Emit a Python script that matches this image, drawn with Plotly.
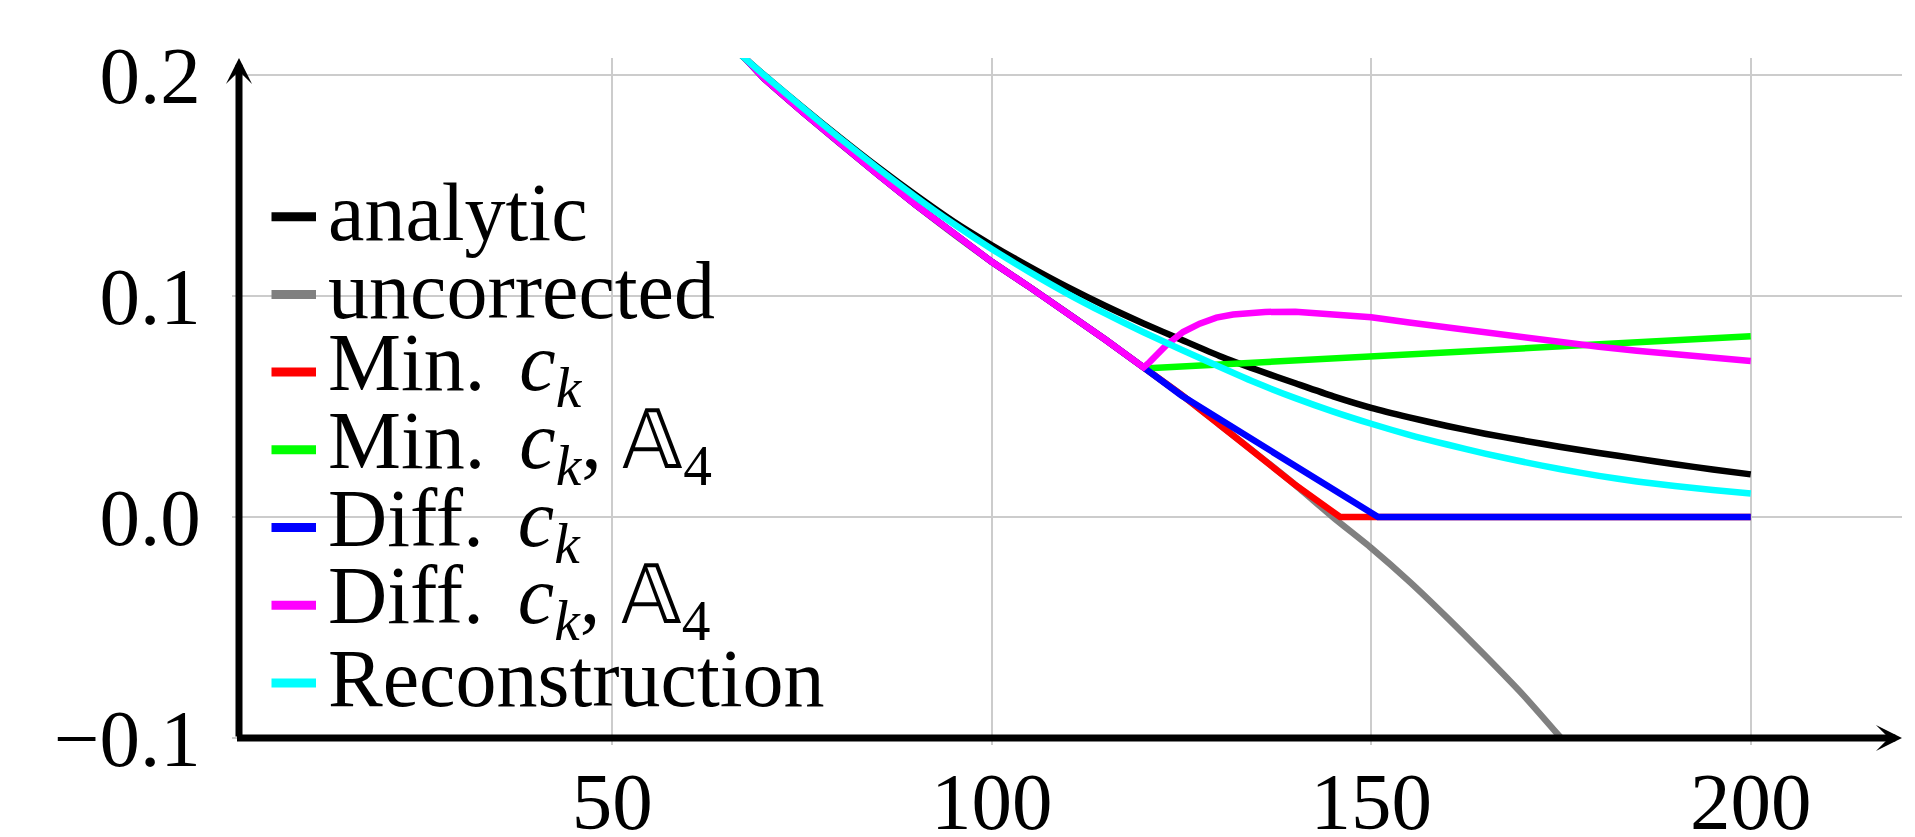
import plotly.graph_objects as go

# ---------------- data ----------------
x_main = [67, 70, 75, 80, 85, 90, 95, 100, 105, 110, 115, 120, 125, 130, 135,
          140, 145, 150, 155, 160, 165, 170, 175, 180, 185, 190, 195, 200]

analytic = [0.2090, 0.2000, 0.1856, 0.1717, 0.1583, 0.1456, 0.1336, 0.1230,
            0.1132, 0.1040, 0.0955, 0.0876, 0.0802, 0.0729, 0.0665, 0.0605,
            0.0546, 0.0494, 0.0451, 0.0412, 0.0377, 0.0346, 0.0317, 0.0290,
            0.0264, 0.0239, 0.0215, 0.0193]

reconstruction = [0.2090, 0.2000, 0.1855, 0.1714, 0.1578, 0.1448, 0.1326, 0.1213,
                  0.1108, 0.1010, 0.0920, 0.0836, 0.0757, 0.0680, 0.0605, 0.0538,
                  0.0477, 0.0422, 0.0372, 0.0328, 0.0287, 0.0250, 0.0216, 0.0186,
                  0.0161, 0.0140, 0.0122, 0.0106]

x_uncorr = [67, 70, 75, 80, 85, 90, 95, 100, 105, 110, 115, 120, 125, 130, 135,
            140, 145, 150, 155, 160, 165, 170, 175, 180]
uncorrected = [0.2095, 0.1985, 0.1835, 0.1690, 0.1550, 0.1412, 0.1280, 0.1155,
               0.1040, 0.0922, 0.0802, 0.0677, 0.0553, 0.0418, 0.0283, 0.0145,
               -0.0002, -0.0140, -0.0291, -0.0455, -0.0627, -0.0805, -0.1000, -0.1200]

x_min_ck = x_uncorr[:16] + [145.9, 200]
min_ck = uncorrected[:16] + [0.0, 0.0]

x_min_ck_a4 = [120, 140, 160, 180, 200]
min_ck_a4 = [0.0672, 0.0709, 0.0745, 0.0782, 0.0818]

x_diff_ck = x_uncorr[:12] + [125, 130, 135, 140, 145, 150.9, 200]
diff_ck = uncorrected[:12] + [0.0550, 0.0443, 0.0337, 0.0230, 0.0122, 0.0, 0.0]

x_diff_ck_a4 = x_uncorr[:12] + [120.8, 123.0, 125.2, 127.4, 129.6, 131.8, 136, 140,
                                145, 150, 155, 160, 165, 170, 175, 180, 185, 190, 195, 200]
diff_ck_a4 = uncorrected[:12] + [0.0701, 0.0777, 0.0837, 0.0875, 0.0902, 0.0916,
                                 0.0928, 0.0929, 0.0920, 0.0904, 0.0880, 0.0857,
                                 0.0835, 0.0814, 0.0792, 0.0770, 0.0752, 0.0735,
                                 0.0720, 0.0706]

x_ticks = [50, 100, 150, 200]
y_ticks = [-0.1, 0.0, 0.1, 0.2]
y_tick_labels = ["\u22120.1", "0.0", "0.1", "0.2"]

SP = " \u2006"
legend_labels = [
    "analytic",
    "uncorrected",
    "Min." + SP + "<i>c</i><sub><i>k</i></sub>",
    "Min." + SP + "<i>c</i><sub><i>k</i></sub>, \U0001D538<sub>4</sub>",
    "Diff." + SP + "<i>c</i><sub><i>k</i></sub>",
    "Diff." + SP + "<i>c</i><sub><i>k</i></sub>, \U0001D538<sub>4</sub>",
    "Reconstruction",
]
colors = ["#000000", "#808080", "#ff0000", "#00ff00", "#0000ff", "#ff00ff", "#00ffff"]
smooth = [True, True, False, False, False, False, True]

series = [
    (x_main, analytic),
    (x_uncorr, uncorrected),
    (x_min_ck, min_ck),
    (x_min_ck_a4, min_ck_a4),
    (x_diff_ck, diff_ck),
    (x_diff_ck_a4, diff_ck_a4),
    (x_main, reconstruction),
]

# ---------------- layout constants ----------------
W, H = 1915, 837
ML, MR, MT, MB = 239, 13, 58, 99
PW, PH = W - ML - MR, H - MT - MB
FONT = "Liberation Serif"


def px(xp):
    return (xp - ML) / PW


def py(yp):
    return (H - MB - yp) / PH


fig = go.Figure()
for (xs, ys), name, col, sm in zip(series, legend_labels, colors, smooth):
    fig.add_trace(go.Scatter(x=xs, y=ys, mode="lines", name=name,
                             line=dict(color=col, width=6.5,
                                       shape="spline" if sm else "linear",
                                       smoothing=0.6),
                             showlegend=False))

shapes = []
annotations = []
# white legend box covering grid
shapes.append(dict(type="rect", xref="paper", yref="paper",
                   x0=px(250), x1=px(839), y0=py(734), y1=py(168),
                   fillcolor="white", line=dict(width=0), layer="between"))

row0, row_step = 216.7, 77.7
for i, (name, col) in enumerate(zip(legend_labels, colors)):
    yc = row0 + i * row_step
    shapes.append(dict(type="line", xref="paper", yref="paper",
                       x0=px(271.5), x1=px(316), y0=py(yc), y1=py(yc),
                       line=dict(color=col, width=9)))
    annotations.append(dict(xref="paper", yref="paper", x=px(326), y=py(yc),
                            xanchor="left", yanchor="middle", showarrow=False,
                            text=name, font=dict(family=FONT, size=82, color="black"),
                            yshift=4))

# axis arrows
annotations.append(dict(xref="paper", yref="paper", x=1, y=0, ax=-PW - 3.5, ay=0,
                        axref="pixel", ayref="pixel", text="", showarrow=True,
                        arrowhead=3, arrowsize=0.62, arrowwidth=7, arrowcolor="black",
                        standoff=0, startstandoff=0))
annotations.append(dict(xref="paper", yref="paper", x=0, y=1, ax=0, ay=PH,
                        axref="pixel", ayref="pixel", text="", showarrow=True,
                        arrowhead=3, arrowsize=0.62, arrowwidth=7, arrowcolor="black",
                        standoff=0, startstandoff=0))

fig.update_layout(
    width=W, height=H,
    margin=dict(l=ML, r=MR, t=MT, b=MB, pad=0, autoexpand=False),
    paper_bgcolor="white", plot_bgcolor="white",
    shapes=shapes, annotations=annotations,
    showlegend=False,
    font=dict(family=FONT, size=81, color="black"),
)
fig.update_xaxes(range=[0.83, 219.93], tickvals=x_ticks, showgrid=True,
                 gridcolor="#cccccc", gridwidth=1.5, zeroline=False, showline=False,
                 ticks="outside", ticklen=6, tickcolor="#cccccc", tickwidth=1.5,
                 ticklabelstandoff=-13, automargin=False,
                 tickfont=dict(family=FONT, size=81, color="black"))
fig.update_yaxes(range=[-0.1, 0.2077], tickvals=y_ticks, ticktext=y_tick_labels,
                 showgrid=True, gridcolor="#cccccc", gridwidth=1.5, zeroline=False,
                 showline=False, ticks="outside", ticklen=6, tickcolor="#cccccc",
                 tickwidth=1.5, ticklabelstandoff=15, automargin=False,
                 tickfont=dict(family=FONT, size=81, color="black"))

fig.write_html("out.html", config={"displayModeBar": False},
               post_script="document.body.style.margin='0';document.body.style.overflow='hidden';")
